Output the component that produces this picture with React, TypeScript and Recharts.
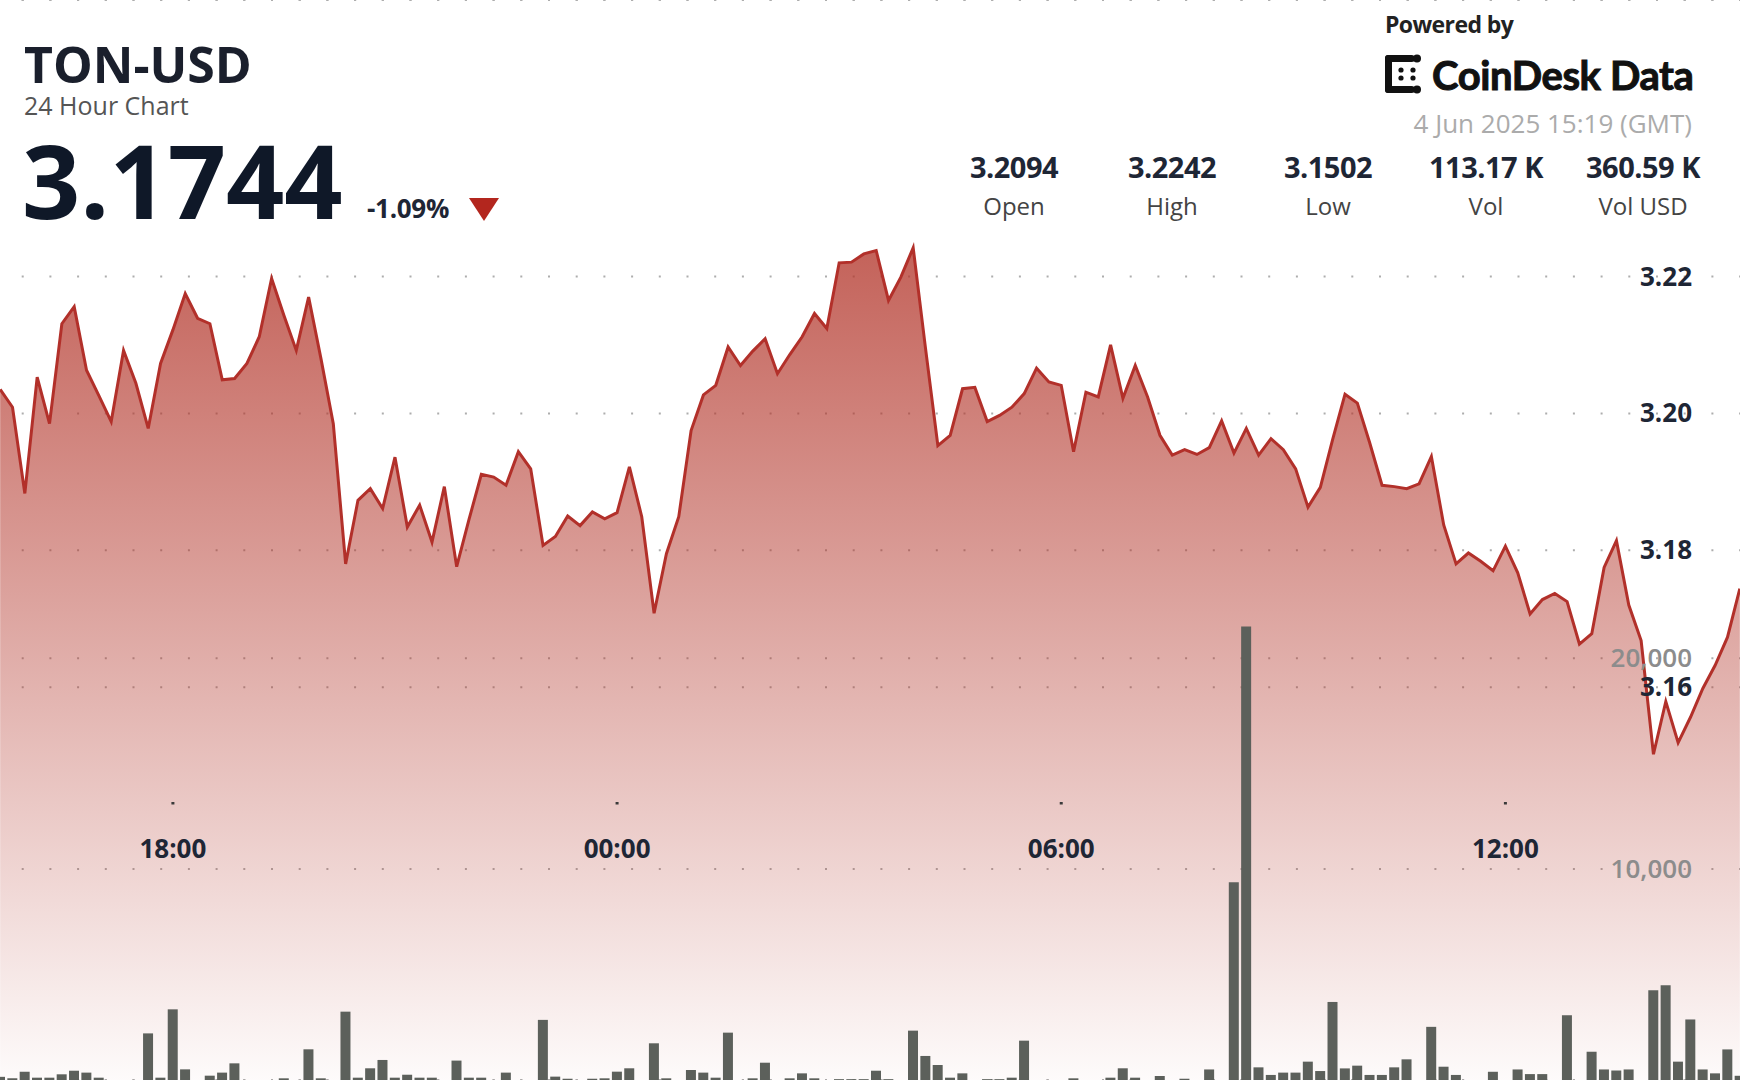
import React from "react";
import { ComposedChart, Area, Bar, XAxis, YAxis, CartesianGrid } from "recharts";

// 10-minute closes, 15:40 (3 Jun) -> 15:10 (4 Jun)
const PRICES = [
  3.2035, 3.2009, 3.1883, 3.2053, 3.1985, 3.2131, 3.2156, 3.2063, 3.2026, 3.1988,
  3.2092, 3.2044, 3.1978, 3.2073, 3.2122, 3.2175, 3.2139, 3.2131, 3.2049, 3.2051,
  3.2073, 3.2112, 3.2197, 3.2143, 3.2092, 3.217, 3.208, 3.1985, 3.178, 3.1873,
  3.189, 3.1861, 3.1936, 3.1834, 3.1866, 3.1812, 3.1893, 3.1776, 3.1845, 3.1911,
  3.1907, 3.1895, 3.1944, 3.1919, 3.1807, 3.182, 3.185, 3.1836, 3.1856, 3.1846,
  3.1855, 3.1922, 3.1849, 3.1708, 3.1795, 3.1849, 3.1975, 3.2027, 3.2041, 3.2097,
  3.207, 3.2091, 3.2109, 3.2058, 3.2086, 3.2112, 3.2146, 3.2124, 3.222, 3.2221,
  3.2233, 3.2238, 3.2165, 3.2199, 3.2242, 3.2095, 3.1953, 3.1968, 3.2036, 3.2038,
  3.1988, 3.1997, 3.2009, 3.2029, 3.2066, 3.2046, 3.2041, 3.1944, 3.2031, 3.2024,
  3.21, 3.2022, 3.207, 3.2024, 3.1968, 3.1939, 3.1947, 3.194, 3.195, 3.1989,
  3.1942, 3.1978, 3.1939, 3.1963, 3.1947, 3.1919, 3.1863, 3.1892, 3.1962, 3.2028,
  3.2015, 3.1957, 3.1895, 3.1893, 3.189, 3.1897, 3.1937, 3.1837, 3.178, 3.1796,
  3.1784, 3.177, 3.1806, 3.1767, 3.1707, 3.1728, 3.1737, 3.1725, 3.1663, 3.1678,
  3.1775, 3.1814, 3.172, 3.1668, 3.1502, 3.1579, 3.1519, 3.1556, 3.1598, 3.1632,
  3.1673, 3.1744,
];

const VOLUMES = [
  150, 80, 395, 110, 110, 270, 440, 350, 110, 0,
  0, 0, 2210, 110, 3350, 505, 0, 205, 350, 790,
  0, 0, 0, 80, 0, 1455, 80, 0, 3240, 110,
  555, 950, 110, 250, 110, 110, 0, 920, 110, 110,
  0, 350, 0, 0, 2850, 160, 60, 0, 60, 80,
  395, 555, 0, 1740, 80, 0, 475, 350, 110, 2245,
  0, 80, 820, 0, 80, 315, 80, 0, 40, 40,
  40, 440, 40, 0, 2340, 1140, 710, 110, 315, 0,
  40, 40, 110, 1865, 0, 0, 0, 80, 0, 0,
  110, 555, 110, 0, 190, 0, 60, 0, 500, 0,
  9370, 21500, 600, 240, 350, 350, 870, 425, 3700, 550,
  680, 240, 240, 600, 980, 0, 2520, 630, 240, 0,
  0, 390, 0, 500, 280, 280, 0, 3070, 0, 1340,
  500, 450, 500, 0, 4250, 4490, 870, 2870, 500, 315,
  1450, 200,
];

const TIME_TICKS = ["18:00", "00:00", "06:00", "12:00"];
const PRICE_TICKS = [3.16, 3.18, 3.2, 3.22];
const VOLUME_TICKS = [10000, 20000];

const STAT_VALUES = ["3.2094", "3.2242", "3.1502", "113.17 K", "360.59 K"];
const STAT_LABELS = ["Open", "High", "Low", "Vol", "Vol USD"];
const STAT_CENTERS = [1014, 1172, 1328, 1486, 1643];

const START_MINUTE = 15 * 60 + 40;
const pad = (n: number) => String(n).padStart(2, "0");
const times = PRICES.map((_, i) => {
  const m = (START_MINUTE + i * 10) % 1440;
  return `${pad(Math.floor(m / 60))}:${pad(m % 60)}`;
});
const data = PRICES.map((price, i) => ({ time: times[i], price, volume: VOLUMES[i] }));

const W = 1740;
const H = 1080;
const SHIFT = 6; // half a band, so the line touches both edges
const PLOT_W = W + 2 * SHIFT;
const FONT = "'Open Sans', 'Noto Sans', sans-serif";
const LABEL_RIGHT = 1692 + SHIFT;

const PriceTick = (props: any) => (
  <text x={LABEL_RIGHT} y={props.y} dy={9} textAnchor="end" fontSize={26} fontWeight={700} fill="#1e2635" fontFamily={FONT}>
    {Number(props.payload.value).toFixed(2)}
  </text>
);

const VolumeTick = (props: any) => (
  <text x={LABEL_RIGHT} y={props.y} dy={9} textAnchor="end" fontSize={26} fontWeight={600} fill="#8c8c8c" fontFamily={FONT}>
    {Number(props.payload.value).toLocaleString("en-US")}
  </text>
);

const TimeTick = (props: any) => (
  <g>
    <rect x={props.x - 1.5} y={802} width={3} height={2.5} fill="#3a3a3a" />
    <text x={props.x} y={858} textAnchor="middle" fontSize={26} fontWeight={700} fill="#1e2635" fontFamily={FONT}>
      {props.payload.value}
    </text>
  </g>
);

const Logo = () => (
  <svg width={42} height={42} viewBox="0 0 42 42" style={{ position: "absolute", left: 1384, top: 53 }}>
    <rect x={1} y={2} width={7} height={38} rx={3} fill="#111" />
    <rect x={1} y={2} width={30} height={7} rx={3.5} fill="#111" />
    <rect x={1} y={33} width={30} height={7} rx={3.5} fill="#111" />
    <circle cx={33} cy={5.5} r={4} fill="#111" />
    <circle cx={33} cy={36.5} r={4} fill="#111" />
    <circle cx={17} cy={17} r={2.6} fill="#111" />
    <circle cx={17} cy={25} r={2.6} fill="#111" />
    <circle cx={29} cy={17} r={2.6} fill="#111" />
    <circle cx={29} cy={25} r={2.6} fill="#111" />
  </svg>
);

export default function App() {
  return (
    <div style={{ position: "absolute", left: 0, top: 0, width: W, height: H, overflow: "hidden", background: "#fff", fontFamily: FONT }}>
      <div style={{ position: "absolute", left: -SHIFT, top: 0 }}>
        {/* axes get 1px each (they are not drawn at size 0); the extra pixels fall outside the page */}
        <ComposedChart width={PLOT_W + 2} height={H + 1} data={data} margin={{ top: 0, right: 0, bottom: 0, left: 0 }} barCategoryGap={0}>
          <defs>
            <linearGradient id="priceFill" x1="0" y1="0" x2="0" y2="1">
              <stop offset="0%" stopColor="#b3362b" stopOpacity={0.78} />
              <stop offset="100%" stopColor="#b3362b" stopOpacity={0.02} />
            </linearGradient>
          </defs>
          <CartesianGrid yAxisId="price" vertical={false} stroke="#adadad" strokeWidth={2} strokeDasharray="2 25.7" />
          <CartesianGrid yAxisId="vol" vertical={false} stroke="#adadad" strokeWidth={2} strokeDasharray="2 25.7" />
          <XAxis dataKey="time" ticks={TIME_TICKS} interval={0} height={1} axisLine={false} tickLine={false} tick={<TimeTick />} />
          <YAxis yAxisId="price" orientation="right" width={1} domain={[3.1026, 3.2604]} ticks={PRICE_TICKS} interval={0} allowDataOverflow axisLine={false} tickLine={false} tick={<PriceTick />} />
          <YAxis yAxisId="vol" orientation="right" width={1} domain={[0, 51200]} ticks={VOLUME_TICKS} interval={0} allowDataOverflow axisLine={false} tickLine={false} tick={<VolumeTick />} />
          <Bar yAxisId="vol" dataKey="volume" fill="#5c605b" barSize={10} isAnimationActive={false} />
          <Area yAxisId="price" type="linear" dataKey="price" stroke="#b2302a" strokeWidth={3} fill="url(#priceFill)" fillOpacity={1} isAnimationActive={false} dot={false} activeDot={false} />
        </ComposedChart>
      </div>

      <div style={{ position: "absolute", left: 24, top: 39, fontSize: 50, lineHeight: 1, fontWeight: 700, color: "#1a1f2c" }}>TON-USD</div>
      <div style={{ position: "absolute", left: 24, top: 93, fontSize: 25, lineHeight: 1, color: "#555" }}>24 Hour Chart</div>
      <div style={{ position: "absolute", left: 22, top: 129, fontSize: 102, lineHeight: 1, fontWeight: 700, color: "#0f1828" }}>3.1744</div>
      <div style={{ position: "absolute", left: 367, top: 195, fontSize: 26, lineHeight: 1, fontWeight: 700, color: "#1e2635", letterSpacing: -0.3 }}>-1.09%</div>
      <svg width={30} height={23} style={{ position: "absolute", left: 469, top: 198 }}>
        <polygon points="0,0 30,0 15,23" fill="#b3261e" />
      </svg>

      <div style={{ position: "absolute", left: 1385, top: 13, fontSize: 23, lineHeight: 1, fontWeight: 700, color: "#222", letterSpacing: -0.6 }}>Powered by</div>
      <Logo />
      <div style={{ position: "absolute", left: 1432, top: 55, fontSize: 40, lineHeight: 1, fontWeight: 700, color: "#111", fontFamily: "Lato, sans-serif", letterSpacing: -0.4, WebkitTextStroke: "1px #111" }}>CoinDesk Data</div>
      <div style={{ position: "absolute", right: 48, top: 110, fontSize: 26, lineHeight: 1, color: "#ababab" }}>4 Jun 2025 15:19 (GMT)</div>

      {STAT_VALUES.map((v, i) => (
        <div key={v} style={{ position: "absolute", left: STAT_CENTERS[i] - 90, width: 180, top: 152, textAlign: "center" }}>
          <div style={{ fontSize: 29, lineHeight: 1, fontWeight: 700, color: "#1e2635", letterSpacing: -0.5 }}>{v}</div>
          <div style={{ fontSize: 24, lineHeight: 1, marginTop: 13, color: "#444" }}>{STAT_LABELS[i]}</div>
        </div>
      ))}
    </div>
  );
}
